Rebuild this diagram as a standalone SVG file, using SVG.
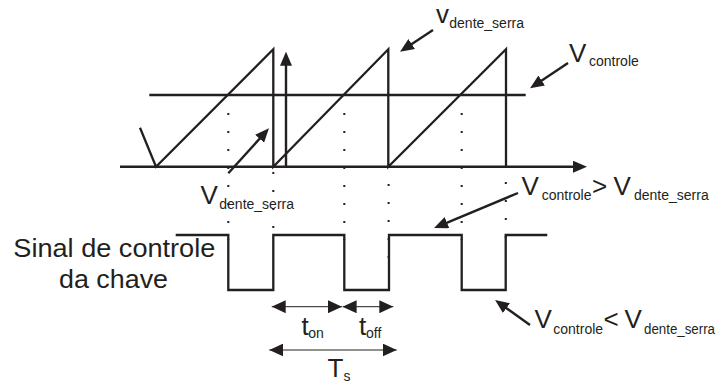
<svg xmlns="http://www.w3.org/2000/svg" width="718" height="382" viewBox="0 0 718 382">
<style>
.ln{fill:none;stroke:#231f20;stroke-width:2.3;stroke-linejoin:miter}
.ar{fill:none;stroke:#231f20;stroke-width:2.4;marker-end:url(#big)}
.dim{fill:none;stroke:#231f20;stroke-width:1;marker-start:url(#thin);marker-end:url(#thin)}
.dot{fill:none;stroke:#231f20;stroke-width:2;stroke-dasharray:2 16}
text{font-family:"Liberation Sans",Arial,sans-serif;fill:#231f20}
.m{font-size:26px}
.s{font-size:14px}
.b{font-size:25px}
</style>
<defs>
<marker id="big" markerUnits="userSpaceOnUse" markerWidth="14" markerHeight="12" refX="3" refY="6" orient="auto">
<path d="M0,0 L14,6 L0,12 z" fill="#231f20"/>
</marker>
<marker id="thin" markerUnits="userSpaceOnUse" markerWidth="14" markerHeight="13" refX="14" refY="6.5" orient="auto-start-reverse">
<path d="M0,0 L14,6.5 L0,13 z" fill="#231f20"/>
</marker>
</defs>
<rect width="718" height="382" fill="#fff"/>

<g id="dotted-guides">
<line class="dot" x1="228.3" y1="113" x2="228.3" y2="240"/>
<line class="dot" x1="273.3" y1="172" x2="273.3" y2="240"/>
<line class="dot" x1="344.3" y1="113" x2="344.3" y2="240"/>
<line class="dot" x1="388.6" y1="184" x2="388.6" y2="260"/>
<line class="dot" x1="461.7" y1="113" x2="461.7" y2="240"/>
<line class="dot" x1="505.8" y1="182" x2="505.8" y2="240"/>
</g>

<g id="sawtooth">
<polyline class="ln" points="140,127.7 156,166.7 273.3,49.3 273.3,166.7 388.3,49.3 388.3,166.7 506,49.3 506,166.7"/>
</g>
<g id="control-level">
<line class="ln" x1="149.3" y1="95" x2="525.7" y2="95"/>
</g>
<g id="switch-signal">
<polyline class="ln" points="175.7,235 228.3,235 228.3,290 273.3,290 273.3,235 344.3,235 344.3,290 389,290 389,235 461.7,235 461.7,290 505.7,290 505.7,235 547.3,235"/>
</g>

<g id="connectors">
<line class="ar" x1="120" y1="166.7" x2="576" y2="166.7"/>
<line class="ar" x1="286" y1="166.7" x2="286" y2="62.7"/>
<line class="ar" x1="433" y1="30" x2="409.2" y2="45.7"/>
<line class="ar" x1="568" y1="63" x2="539.2" y2="82.2"/>
<line class="ar" x1="228.3" y1="173.3" x2="261.6" y2="136.5"/>
<line class="ar" x1="518" y1="193" x2="444.2" y2="223.8"/>
<line class="ar" x1="530" y1="325" x2="504" y2="306.4"/>
<line class="dim" x1="271.7" y1="306.7" x2="342" y2="306.7"/>
<line class="dim" x1="342.6" y1="306.7" x2="393.3" y2="306.7"/>
<line class="dim" x1="269.3" y1="350" x2="396.7" y2="350"/>
</g>

<g id="label-vdente-top">
<text class="m" x="436" y="23.3">v</text>
<text class="s" x="449.3" y="28">dente_serra</text>
</g>
<g id="label-vcontrole">
<text class="m" x="569" y="61.7">V</text>
<text class="s" x="589" y="65.5">controle</text>
</g>
<g id="label-vdente-mid">
<text class="m" x="200.5" y="203.5">V</text>
<text class="s" x="219.3" y="209.3">dente_serra</text>
</g>
<g id="label-greater">
<text class="m" x="521.5" y="195">V</text>
<text class="s" x="541.7" y="200">controle</text>
<text class="m" x="592" y="195">&gt;</text>
<text class="m" x="613.5" y="195">V</text>
<text class="s" x="634" y="200">dente_serra</text>
</g>
<g id="label-less">
<text class="m" x="534.5" y="328.3">V</text>
<text class="s" x="553.3" y="334">controle</text>
<text class="m" x="603.5" y="328.3">&lt;</text>
<text class="m" x="624.5" y="328.3">V</text>
<text class="s" x="644" y="334" textLength="71" lengthAdjust="spacingAndGlyphs">dente_serra</text>
</g>
<g id="label-signal">
<text class="b" x="13.3" y="257.3" textLength="202" lengthAdjust="spacingAndGlyphs">Sinal de controle</text>
<text class="b" x="59" y="288.3" textLength="109" lengthAdjust="spacingAndGlyphs">da chave</text>
</g>
<g id="label-ton">
<text class="m" x="301.5" y="335">t</text>
<text class="s" x="308.3" y="338">on</text>
</g>
<g id="label-toff">
<text class="m" x="359" y="335">t</text>
<text class="s" x="366" y="338">off</text>
</g>
<g id="label-ts">
<text class="m" x="327.5" y="377">T</text>
<text class="s" x="343.5" y="380.5">s</text>
</g>
</svg>
